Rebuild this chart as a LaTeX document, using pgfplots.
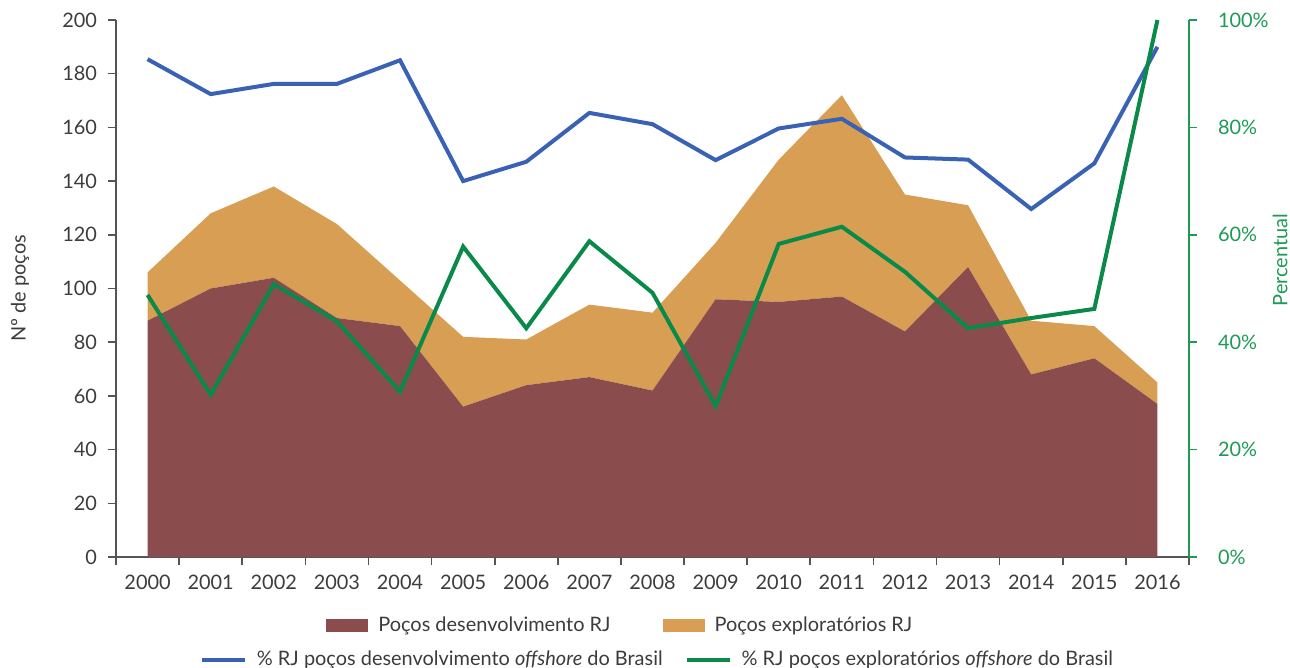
\documentclass[border=0pt]{standalone}
\usepackage{fontspec}
\setmainfont{Lato}
\usepackage{pgfplots}
\pgfplotsset{compat=1.18}
\definecolor{dev}{HTML}{8B4C4E}
\definecolor{expl}{HTML}{D89E54}
\definecolor{blueL}{HTML}{3A62B4}
\definecolor{greenL}{HTML}{0A8A48}
\definecolor{greenA}{HTML}{1E9A55}
\definecolor{txt}{HTML}{3C3C3C}
\definecolor{axisg}{HTML}{555555}
\newcommand{\fs}{\fontsize{10}{12}\selectfont}
\begin{document}
\begin{tikzpicture}
\begin{axis}[
 scale only axis, width=536.5bp, height=268.5bp,
 xmin=-0.5, xmax=16.5, ymin=0, ymax=200,
 /pgf/number format/assume math mode=true,
 axis x line*=bottom, axis y line*=left,
 axis line style={axisg, line width=0.8bp, -},
 xtick={0,...,16},
 xticklabels={2000,2001,2002,2003,2004,2005,2006,2007,2008,2009,2010,2011,2012,2013,2014,2015,2016},
 major x tick style={draw=none},
 minor xtick={-0.5,0.5,...,16.5},
 minor x tick style={axisg, line width=0.8bp},
 minor tick length=4bp,
 ytick={0,20,...,200},
 y tick style={axisg, line width=0.8bp},
 major tick length=4bp,
 tick align=outside,
 ticklabel style={font=\fs, text=txt},
 xticklabel shift=1.5bp,
 yticklabel shift=2bp,
 stack plots=y,
 ylabel={Nº de poços},
 ylabel style={at={(axis description cs:-0.0895,0.5)}, anchor=center, font=\fs, text=txt},
 legend style={at={(0.471,-0.127)}, anchor=center, draw=none, fill=none, font=\fs, text=txt,
   /tikz/every even column/.append style={column sep=24bp}},
 legend columns=2,
 legend image code/.code={\fill[#1] (0bp,-3.3bp) rectangle (21bp,3.3bp); \path (24bp,0bp);},
]
\addplot[draw=none, fill=dev] coordinates {
(0,88) (1,100) (2,104) (3,89) (4,86) (5,56) (6,64) (7,67) (8,62) (9,96) (10,95) (11,97) (12,84) (13,108) (14,68) (15,74) (16,57)} \closedcycle;
\addlegendentry{Poços desenvolvimento RJ}
\addplot[draw=none, fill=expl] coordinates {
(0,18) (1,28) (2,34) (3,35) (4,17) (5,26) (6,17) (7,27) (8,29) (9,21) (10,53) (11,75) (12,51) (13,23) (14,20) (15,12) (16,8)} \closedcycle;
\addlegendentry{Poços exploratórios RJ}
\end{axis}
\begin{axis}[
 scale only axis, width=536.5bp, height=268.5bp,
 xmin=-0.5, xmax=16.5, ymin=0, ymax=100,
 /pgf/number format/assume math mode=true,
 axis x line=none, axis y line*=right,
 axis line style={greenA, line width=0.8bp, -},
 ytick={0,20,...,100},
 yticklabel={\pgfmathprintnumber{\tick}\%},
 y tick style={greenA, line width=0.8bp},
 major tick length=4bp, tick align=outside,
 yticklabel style={font=\fs, text=greenA},
 yticklabel shift=7bp,
 ylabel={Percentual},
 ylabel style={at={(axis description cs:1.0848,0.553)}, anchor=center, font=\fs, text=greenA},
 legend style={at={(0.5056,-0.191)}, anchor=center, draw=none, fill=none, font=\fs, text=txt,
   /tikz/every even column/.append style={column sep=9bp}},
 legend columns=2,
 legend image code/.code={\draw[#1, line width=2bp] (0bp,0bp) -- (21.5bp,0bp); \path (24.5bp,0bp);},
]
\addplot[blueL, line width=2bp] coordinates {
(0,92.7) (1,86.2) (2,88.1) (3,88.1) (4,92.5) (5,70.0) (6,73.6) (7,82.7) (8,80.6) (9,73.9) (10,79.8) (11,81.6) (12,74.4) (13,74.0) (14,64.8) (15,73.3) (16,95.0)};
\addlegendentry{\% RJ poços desenvolvimento \textit{offshore} do Brasil}
\addplot[greenL, line width=2bp] coordinates {
(0,48.8) (1,30.2) (2,50.8) (3,43.9) (4,30.8) (5,57.8) (6,42.6) (7,58.8) (8,49.2) (9,28.1) (10,58.3) (11,61.5) (12,53.1) (13,42.6) (14,44.5) (15,46.2) (16,100)};
\addlegendentry{\% RJ poços exploratórios \textit{offshore} do Brasil}
\end{axis}
\pgfresetboundingbox
\path (-58bp,-55.5bp) rectangle (587bp,278.5bp);
\end{tikzpicture}
\end{document}
